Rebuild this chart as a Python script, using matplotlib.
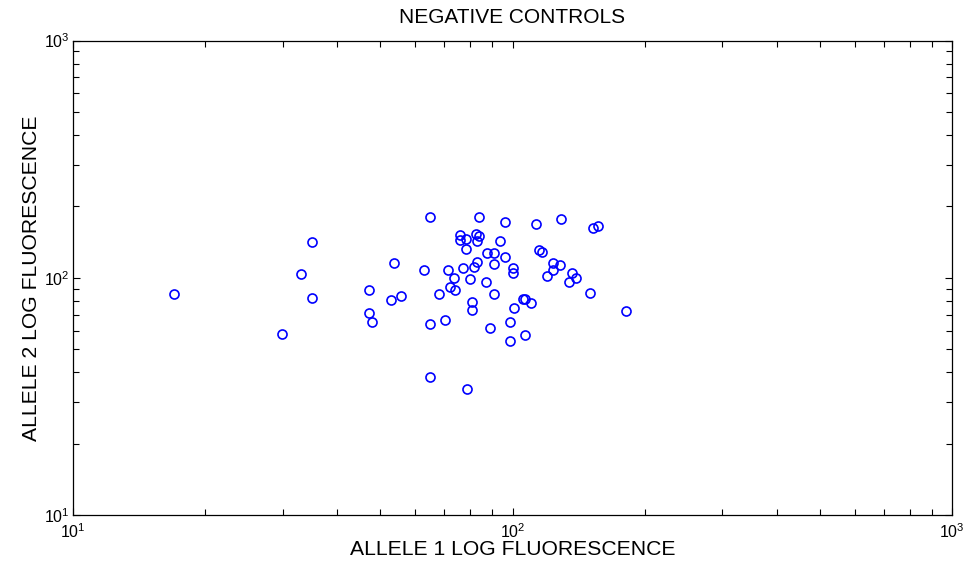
import matplotlib
matplotlib.use("Agg")
import matplotlib.pyplot as plt
from matplotlib.ticker import LogLocator

plt.rcParams['font.family'] = ['Liberation Sans', 'DejaVu Sans']

# negative control fluorescence readings
allele1 = [17.0, 35.0, 33.1, 35.0, 29.9, 53.9, 47.1, 52.8, 55.9, 47.1,
           47.9, 65.0, 83.7, 95.9, 113.0, 129.0, 152.5, 156.1, 75.9, 75.9,
           78.3, 82.8, 83.7, 82.9, 93.7, 78.2, 87.7, 91.0, 95.9, 114.8,
           117.0, 83.1, 81.7, 90.8, 123.5, 128.1, 123.7, 62.9, 71.2, 77.0,
           100.3, 100.3, 136.4, 139.3, 119.7, 134.1, 73.8, 80.0, 87.0, 72.0,
           74.0, 67.9, 90.8, 150.4, 81.1, 81.1, 105.7, 107.0, 110.2, 101.0,
           181.0, 65.0, 70.1, 98.6, 88.9, 106.8, 98.6, 65.0, 78.9]
allele2 = [85.5, 141.6, 103.6, 82.5, 58.2, 115.9, 88.7, 80.4, 83.9, 71.4,
           65.2, 180.5, 180.5, 172.5, 168.7, 177.6, 162.7, 165.9, 151.1, 144.4,
           145.4, 153.5, 149.7, 143.4, 143.0, 132.0, 127.7, 127.0, 122.5, 131.1,
           128.6, 116.7, 111.1, 114.8, 115.2, 113.0, 108.0, 108.3, 108.3, 110.1,
           109.7, 105.2, 104.9, 99.9, 101.8, 96.1, 99.9, 99.2, 95.8, 91.8,
           88.7, 85.5, 85.5, 86.4, 79.1, 73.3, 81.5, 81.3, 78.4, 74.5,
           72.5, 64.1, 66.7, 65.4, 61.5, 57.5, 54.4, 38.1, 33.9]

fig = plt.figure(figsize=(9.69, 5.73), dpi=100)
ax = fig.add_axes([0.075, 0.1007, 0.9078, 0.8286])

ax.plot(allele1, allele2, 'o', linestyle='none', markerfacecolor='none',
        markeredgecolor='blue', markersize=6.5, markeredgewidth=1.2)

ax.set_xscale('log')
ax.set_yscale('log')
ax.set_xlim(10, 1000)
ax.set_ylim(10, 1000)

for a in (ax.xaxis, ax.yaxis):
    a.set_major_locator(LogLocator(base=10))
    a.set_minor_locator(LogLocator(base=10, subs=range(2, 10)))

ax.tick_params(which='both', direction='in', top=True, right=True,
               labelsize=11.5, width=0.8)
ax.tick_params(which='major', length=5)
ax.tick_params(which='minor', length=4)
ax.tick_params(axis='x', which='major', pad=5)
ax.tick_params(axis='y', which='major', pad=2)
for s in ax.spines.values():
    s.set_linewidth(0.9)

ax.set_title('NEGATIVE CONTROLS', fontsize=15, pad=12.5)
ax.set_xlabel('ALLELE 1 LOG FLUORESCENCE', fontsize=15.2, labelpad=-1)
ax.set_ylabel('ALLELE 2 LOG FLUORESCENCE', fontsize=15.2, labelpad=2)

fig.savefig('out.png', dpi=100)
